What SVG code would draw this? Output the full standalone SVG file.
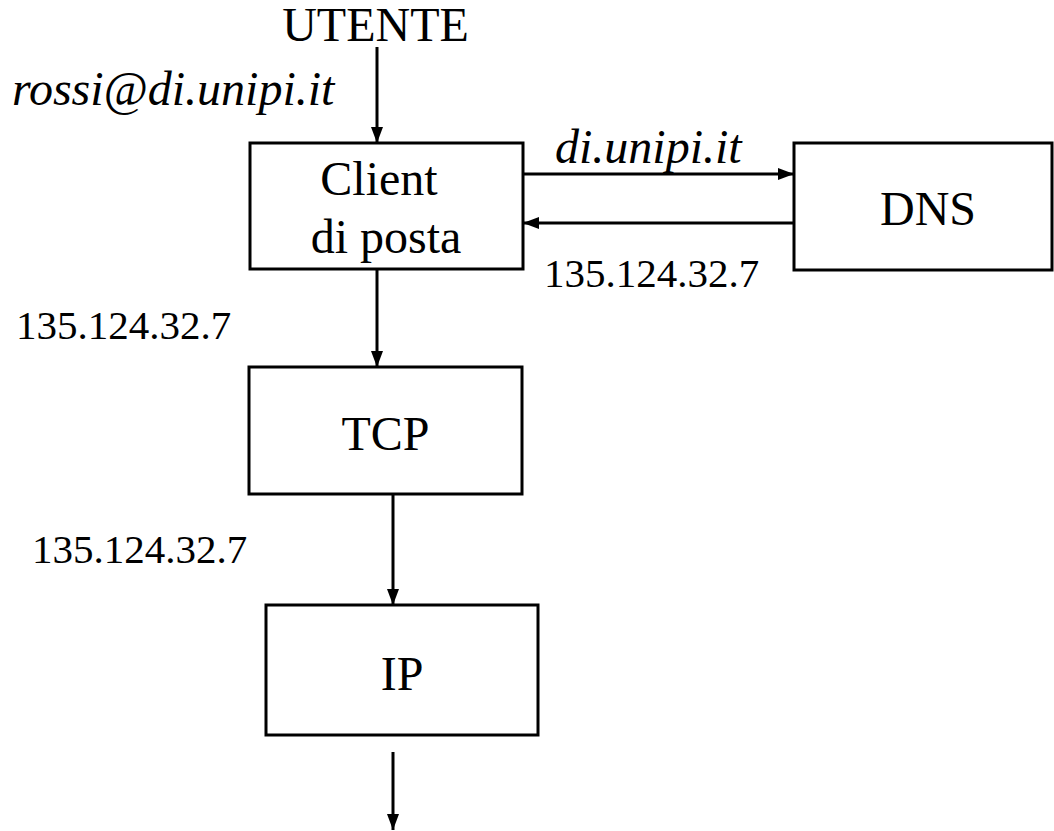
<svg xmlns="http://www.w3.org/2000/svg" width="1054" height="831" viewBox="0 0 1054 831">
  <style>
    .box { fill: #ffffff; stroke: #000000; stroke-width: 3; }
    text { font-family: "Liberation Serif", "Times New Roman", serif; fill: #000000; }
    .big { font-size: 48px; }
    .ital { font-size: 48px; font-style: italic; }
    .num { font-size: 41px; }
    .wire { stroke: #000000; stroke-width: 3; fill: none; marker-end: url(#arrow); }
  </style>
  <defs>
    <marker id="arrow" viewBox="0 0 16 12" refX="16" refY="6" markerWidth="16" markerHeight="12" markerUnits="userSpaceOnUse" orient="auto">
      <path d="M0,0 L16,6 L0,12 Z" fill="#000000"/>
    </marker>
  </defs>
  <rect width="1054" height="831" fill="#ffffff"/>

  <!-- nodes -->
  <g id="client">
    <rect class="box" x="250" y="143" width="273" height="126"/>
    <text class="big" x="379" y="195" text-anchor="middle">Client</text>
    <text class="big" x="386" y="253" text-anchor="middle">di posta</text>
  </g>
  <g id="dns">
    <rect class="box" x="794" y="143" width="258" height="127"/>
    <text class="big" x="928" y="225" text-anchor="middle">DNS</text>
  </g>
  <g id="tcp">
    <rect class="box" x="249" y="367" width="273" height="127"/>
    <text class="big" x="385.5" y="450" text-anchor="middle">TCP</text>
  </g>
  <g id="ip">
    <rect class="box" x="266" y="605" width="272" height="130"/>
    <text class="big" x="402" y="690" text-anchor="middle">IP</text>
  </g>

  <!-- free-standing labels -->
  <g id="labels">
    <text class="big" x="375.5" y="41" text-anchor="middle">UTENTE</text>
    <text class="ital" x="12" y="105">rossi@di.unipi.it</text>
    <text class="ital" x="555" y="163">di.unipi.it</text>
    <text class="num" x="544" y="287">135.124.32.7</text>
    <text class="num" x="16" y="339">135.124.32.7</text>
    <text class="num" x="32" y="563">135.124.32.7</text>
  </g>

  <!-- connectors -->
  <g id="connectors">
    <line class="wire" x1="377" y1="47" x2="377" y2="143"/>
    <line class="wire" x1="523" y1="174" x2="794" y2="174"/>
    <line class="wire" x1="794" y1="223" x2="523" y2="223"/>
    <line class="wire" x1="377" y1="269" x2="377" y2="367"/>
    <line class="wire" x1="393" y1="494" x2="393" y2="605"/>
    <line class="wire" x1="393" y1="752" x2="393" y2="830"/>
  </g>
</svg>
